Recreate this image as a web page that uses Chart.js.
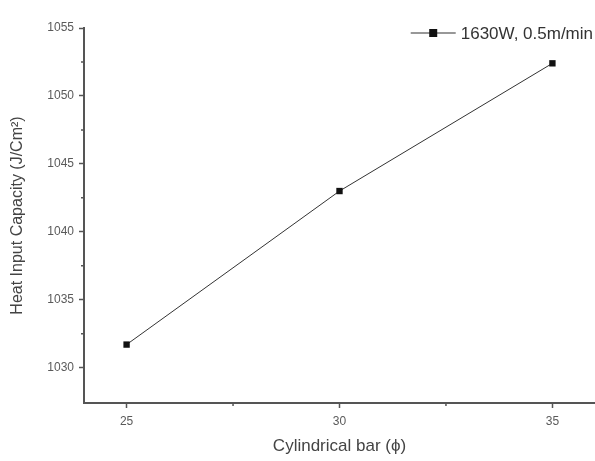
<!DOCTYPE html>
<html>
<head>
<meta charset="utf-8">
<script src="https://cdn.jsdelivr.net/npm/chart.js@4.4.0/dist/chart.umd.min.js"></script>
<style>
    html, body { margin: 0; padding: 0; background: #fff; }
    #wrap { width: 595px; height: 461px; position: relative; }
</style>
</head>
<body>
<div id="wrap"><canvas id="chart"></canvas></div>
<script>
// data
const barSizes = [25, 30, 35];
const heatInput = [1031.7, 1043.0, 1052.4];
const seriesName = '1630W, 0.5m/min';

// axis ticks
const xTicks = [25, 30, 35];
const xMinorTicks = [27.5, 32.5];
const yTicks = [1030, 1035, 1040, 1045, 1050, 1055];
const yMinorTicks = [1032.5, 1037.5, 1042.5, 1047.5, 1052.5];

const axisColor = '#555';
const font = 'Liberation Sans, Arial, sans-serif';

// short minor ticks drawn from the scales
const minorTicks = {
    id: 'minorTicks',
    afterDraw(chart) {
        const ctx = chart.ctx;
        const xs = chart.scales.x, ys = chart.scales.y;
        ctx.save();
        ctx.strokeStyle = axisColor;
        ctx.lineWidth = 1.5;
        ctx.beginPath();
        xMinorTicks.forEach(v => {
            const px = xs.getPixelForValue(v);
            ctx.moveTo(px, xs.top);
            ctx.lineTo(px, xs.top + 3);
        });
        yMinorTicks.forEach(v => {
            const py = ys.getPixelForValue(v);
            ctx.moveTo(ys.right, py);
            ctx.lineTo(ys.right - 3, py);
        });
        ctx.stroke();
        ctx.restore();
    }
};

// legend sitting inside the plot, top right
const insideLegend = {
    id: 'insideLegend',
    afterDraw(chart) {
        const ctx = chart.ctx;
        const area = chart.chartArea;
        const ds = chart.data.datasets[0];
        ctx.save();
        ctx.font = '17px ' + font;
        const tw = ctx.measureText(ds.label).width;
        const tx = area.right - tw - 2;
        const y = area.top + 5;
        const x0 = tx - 50, x1 = tx - 5;
        ctx.strokeStyle = '#333';
        ctx.lineWidth = 1.2;
        ctx.beginPath();
        ctx.moveTo(x0, y);
        ctx.lineTo(x1, y);
        ctx.stroke();
        ctx.fillStyle = '#111';
        const cx = (x0 + x1) / 2;
        ctx.fillRect(cx - 4, y - 4, 8, 8);
        ctx.fillStyle = '#333';
        ctx.textBaseline = 'middle';
        ctx.fillText(ds.label, tx, y + 1);
        ctx.restore();
    }
};

const ctx = document.getElementById('chart').getContext('2d');
new Chart(ctx, {
    type: 'scatter',
    data: {
        datasets: [{
            label: seriesName,
            data: barSizes.map((x, i) => ({ x: x, y: heatInput[i] })),
            showLine: true,
            borderColor: '#333',
            borderWidth: 1,
            backgroundColor: '#111',
            pointStyle: 'rect',
            pointRadius: 4.5,
            pointBorderWidth: 0
        }]
    },
    options: {
        responsive: true,
        maintainAspectRatio: false,
        animation: false,
        layout: { autoPadding: false, padding: { top: 28, right: 0, left: 0, bottom: 0 } },
        plugins: {
            legend: { display: false },
            tooltip: { enabled: false }
        },
        scales: {
            x: {
                type: 'linear',
                min: 24,
                max: 36,
                afterBuildTicks: s => { s.ticks = xTicks.map(v => ({ value: v })); },
                afterFit: s => { s.height = 58; s.paddingLeft = 0; s.paddingRight = 0; },
                grid: { drawOnChartArea: false, tickLength: 5, tickColor: axisColor, tickWidth: 1.5 },
                border: { color: axisColor, width: 2 },
                ticks: {
                    color: '#5a5a5a',
                    font: { family: font, size: 12 },
                    padding: 6,
                    callback: v => String(v)
                },
                title: {
                    display: true,
                    text: 'Cylindrical bar (\u03d5)',
                    color: '#444',
                    font: { family: font, size: 17 },
                    padding: { top: 12 }
                }
            },
            y: {
                type: 'linear',
                min: 1027.4,
                max: 1055,
                afterBuildTicks: s => { s.ticks = yTicks.map(v => ({ value: v })); },
                afterFit: s => { s.width = 84; },
                grid: { drawOnChartArea: false, tickLength: 5, tickColor: axisColor, tickWidth: 1.5 },
                border: { color: axisColor, width: 2 },
                ticks: {
                    color: '#5a5a5a',
                    font: { family: font, size: 12 },
                    padding: 5,
                    callback: v => String(v)
                },
                title: {
                    display: true,
                    text: 'Heat Input Capacity (J/Cm\u00b2)',
                    color: '#444',
                    font: { family: font, size: 16 },
                    padding: { top: 8, bottom: 4 }
                }
            }
        }
    },
    plugins: [minorTicks, insideLegend]
});
</script>
</body>
</html>
